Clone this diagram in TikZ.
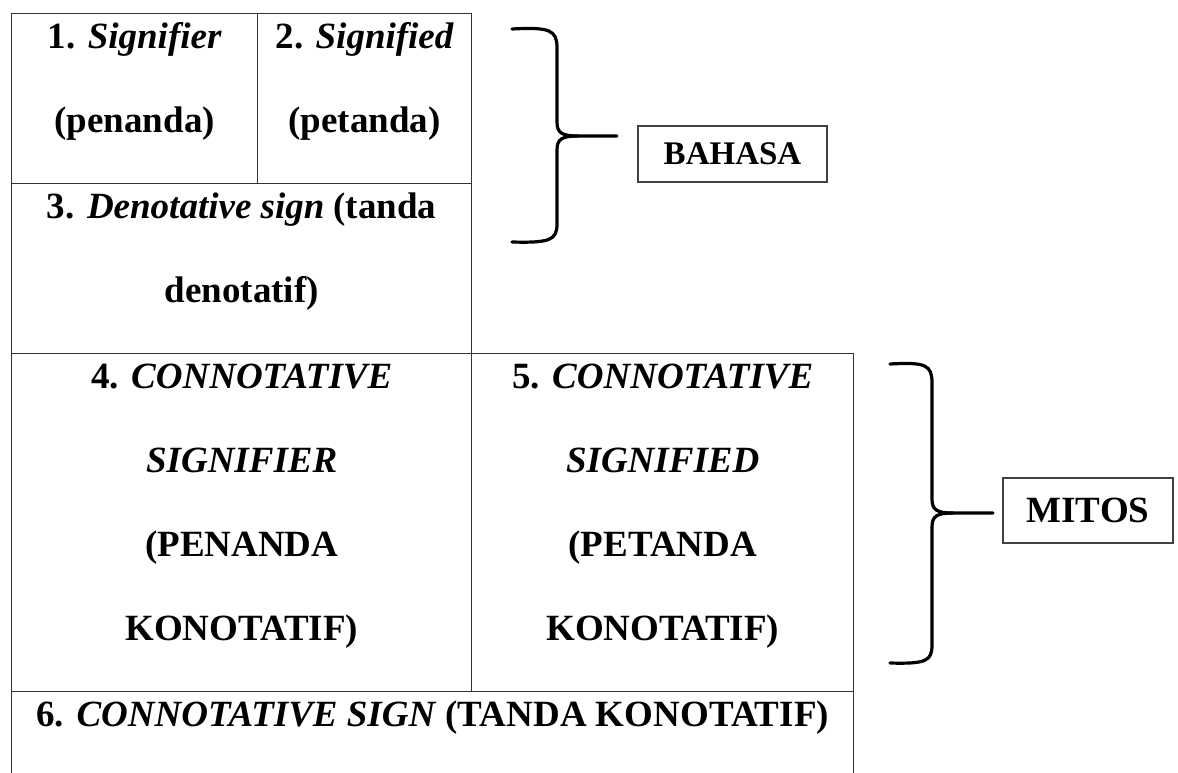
\documentclass[tikz,border=0pt]{standalone}
\usepackage{fontspec}
\setmainfont{Liberation Serif}
\usetikzlibrary{positioning}

\tikzset{
  cellbox/.style={draw=black!80, line width=1.4pt, inner sep=0pt, anchor=north west},
  celltext/.style={font=\fontsize{37}{42}\selectfont\bfseries, anchor=base, inner sep=0pt},
  labelbox/.style={draw=black!75, line width=1.4pt, font=\bfseries,
    minimum height=56pt, inner xsep=0pt},
  bracepath/.style={line width=3.2pt, line cap=round, line join=round}
}

\begin{document}
\begin{tikzpicture}[x=1pt,y=-1pt]
  \useasboundingbox (0,0) rectangle (1178,772);

  % cells of the table
  \node[cellbox, minimum width=246pt, minimum height=170pt] (c1) at (11,13) {};
  \node[cellbox, minimum width=214pt, minimum height=170pt] (c2) at (257,13) {};
  \node[cellbox, minimum width=460pt, minimum height=170pt] (c3) at (11,183) {};
  \node[cellbox, minimum width=460pt, minimum height=338pt] (c4) at (11,353) {};
  \node[cellbox, minimum width=382pt, minimum height=338pt] (c5) at (471,353) {};
  \node[cellbox, minimum width=842pt, minimum height=100pt] (c6) at (11,691) {};

  % text lines, 84pt apart
  \foreach \t [count=\i from 0] in {{1. \textit{Signifier}},{(penanda)}}
    \node[celltext] (t1-\i) at ([yshift=-35pt-84pt*\i]c1.north) {\t};
  \foreach \t [count=\i from 0] in {{2. \textit{Signified}},{(petanda)}}
    \node[celltext] (t2-\i) at ([yshift=-35pt-84pt*\i]c2.north) {\t};
  \foreach \t [count=\i from 0] in {{3. \textit{Denotative sign} (tanda},{denotatif)}}
    \node[celltext] (t3-\i) at ([yshift=-35pt-84pt*\i]c3.north) {\t};
  \foreach \t [count=\i from 0] in {{4. \textit{CONNOTATIVE}},{\textit{SIGNIFIER}},{(PENANDA},{KONOTATIF)}}
    \node[celltext] (t4-\i) at ([yshift=-35pt-84pt*\i]c4.north) {\t};
  \foreach \t [count=\i from 0] in {{5. \textit{CONNOTATIVE}},{\textit{SIGNIFIED}},{(PETANDA},{KONOTATIF)}}
    \node[celltext] (t5-\i) at ([yshift=-35pt-84pt*\i]c5.north) {\t};
  \node[celltext] (t6-0) at ([yshift=-35pt]c6.north) {6. \textit{CONNOTATIVE SIGN} (TANDA KONOTATIF)};

  % labels
  \node[labelbox, minimum width=189pt, font=\fontsize{33}{38}\selectfont\bfseries] (bahasa) at (732.5,154) {BAHASA};
  \node[labelbox, minimum width=170pt, minimum height=65pt, font=\fontsize{37}{42}\selectfont\bfseries] (mitos) at (1088,510.5) {MITOS};

  % braces
  \coordinate (b1top) at (512,29);
  \coordinate (b1bot) at (512,242);
  \coordinate (b1tip) at (617,136);
  \draw[bracepath] (b1top) .. controls (550,27) and (557,30) .. (557,48) -- (557,122)
    .. controls (557,133) and (562,136) .. (578,136) -- (b1tip);
  \draw[bracepath] (578,136) .. controls (562,136) and (557,139) .. (557,150) -- (557,224)
    .. controls (557,240) and (550,243) .. (b1bot);

  \coordinate (b2top) at (890,364);
  \coordinate (b2bot) at (890,663);
  \coordinate (b2tip) at (993,513);
  \draw[bracepath] (b2top) .. controls (926,362) and (932,365) .. (932,383) -- (932,499)
    .. controls (932,510) and (937,513) .. (953,513) -- (b2tip);
  \draw[bracepath] (953,513) .. controls (937,513) and (932,516) .. (932,527) -- (932,645)
    .. controls (932,661) and (926,664) .. (b2bot);
\end{tikzpicture}
\end{document}
